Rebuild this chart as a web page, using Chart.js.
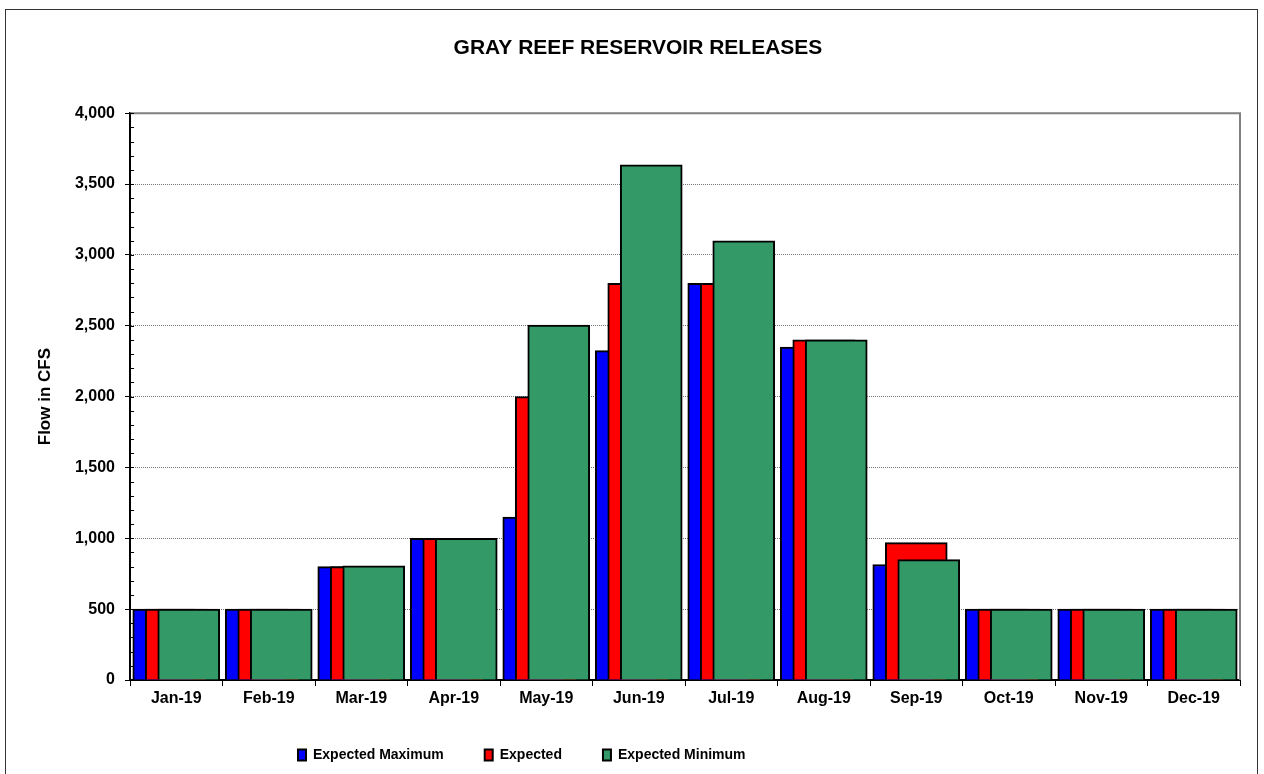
<!DOCTYPE html>
<html>
<head>
<meta charset="utf-8">
<script src="https://cdn.jsdelivr.net/npm/chart.js@4.4.1/dist/chart.umd.min.js"></script>
<style>
  html, body { margin: 0; padding: 0; background: #fff; overflow: hidden; }
  #frame { position: absolute; left: 5px; top: 9px; width: 1251px; height: 800px; border: 1px solid #333; }
  #chart { position: absolute; left: 0; top: 0; }
</style>
</head>
<body>
<div id="frame"></div>
<canvas id="chart" width="1264" height="774"></canvas>
<script>
const months = ['Jan-19', 'Feb-19', 'Mar-19', 'Apr-19', 'May-19', 'Jun-19', 'Jul-19', 'Aug-19', 'Sep-19', 'Oct-19', 'Nov-19', 'Dec-19']
const expectedMax = [500, 500, 800, 1000, 1150, 2325, 2800, 2350, 815, 500, 500, 500]
const expected = [500, 500, 800, 1000, 2000, 2800, 2800, 2400, 970, 500, 500, 500]
const expectedMin = [500, 500, 805, 1000, 2505, 3635, 3100, 2400, 850, 500, 500, 500]
const yTicks = [0, 500, 1000, 1500, 2000, 2500, 3000, 3500, 4000]

// Excel-style overlapping bars: each series nudged along the category axis
const SHIFT = 0.135
const FONT = "'Liberation Sans', Arial, sans-serif"

const toPoints = (values, shift) => values.map((v, i) => ({ x: i + shift, y: v }))

// plot frame (top/right), minor ticks on the value axis, legend/title placement
const framePlugin = {
  id: 'frame',
  afterInit(chart) {
    const legend = chart.legend
    const origFit = legend.fit
    legend.fit = function () {
      origFit.call(this)
      this.height = 67
    }
  },
  afterLayout(chart) {
    chart.legend.left = 257
    chart.titleBlock.left = 36
  },
  afterDraw(chart) {
    const { ctx, chartArea, scales } = chart
    ctx.save()
    ctx.strokeStyle = '#808080'
    ctx.lineWidth = 2
    ctx.beginPath()
    ctx.moveTo(chartArea.left, chartArea.top)
    ctx.lineTo(chartArea.right, chartArea.top)
    ctx.lineTo(chartArea.right, chartArea.bottom)
    ctx.stroke()

    ctx.strokeStyle = '#000'
    ctx.lineWidth = 1
    ctx.beginPath()
    for (let v = 0; v <= 4000; v += 100) {
      const y = Math.round(scales.y.getPixelForValue(v)) + 0.5
      ctx.moveTo(chartArea.left, y)
      ctx.lineTo(chartArea.left + 4, y)
    }
    ctx.stroke()
    ctx.restore()
  },
}

const ctx = document.getElementById('chart').getContext('2d')
new Chart(ctx, {
  type: 'bar',
  data: {
    datasets: [
      {
        label: 'Expected Maximum',
        data: toPoints(expectedMax, -SHIFT),
        backgroundColor: '#0000ff',
        borderColor: '#000',
        borderWidth: 2,
        order: 3,
      },
      {
        label: 'Expected',
        data: toPoints(expected, 0),
        backgroundColor: '#ff0000',
        borderColor: '#000',
        borderWidth: 2,
        order: 2,
      },
      {
        label: 'Expected Minimum',
        data: toPoints(expectedMin, SHIFT),
        backgroundColor: '#339966',
        borderColor: '#000',
        borderWidth: 2,
        order: 1,
      },
    ],
  },
  options: {
    responsive: false,
    animation: false,
    grouped: false,
    barThickness: 62,
    layout: { padding: { left: 0, right: 24, top: 0, bottom: 0 } },
    scales: {
      x: {
        type: 'linear',
        min: -0.5,
        max: 11.5,
        offset: false,
        afterBuildTicks: (scale) => {
          scale.ticks = months.map((_, i) => ({ value: i }))
        },
        afterFit: (scale) => { scale.height = 27 },
        ticks: {
          callback: (v) => months[v],
          autoSkip: false,
          maxRotation: 0,
          padding: 3,
          color: '#000',
          font: { family: FONT, size: 16, weight: 'bold' },
        },
        grid: {
          offset: true,
          drawOnChartArea: false,
          tickLength: 6,
          tickColor: '#000',
          tickWidth: 1,
        },
        border: { color: '#000', width: 2 },
      },
      y: {
        min: 0,
        max: 4000,
        afterBuildTicks: (scale) => {
          scale.ticks = yTicks.map(v => ({ value: v }))
        },
        afterFit: (scale) => { scale.width = 130 },
        ticks: {
          callback: (v) => v.toLocaleString('en-US'),
          padding: 10,
          color: '#000',
          font: { family: FONT, size: 16, weight: 'bold' },
        },
        grid: {
          color: (c) => (c.tick && (c.tick.value === 0 || c.tick.value === 4000)) ? 'rgba(0,0,0,0)' : '#777',
          lineWidth: 1,
          tickLength: 5,
          tickColor: '#000',
          tickBorderDash: [],
        },
        border: { color: '#000', width: 2, dash: [1, 1] },
        title: {
          display: true,
          text: 'Flow in CFS',
          color: '#000',
          padding: { top: 35, bottom: 0 },
          font: { family: FONT, size: 17, weight: 'bold' },
        },
      },
    },
    plugins: {
      tooltip: { enabled: false },
      title: {
        display: true,
        text: 'GRAY REEF RESERVOIR RELEASES',
        color: '#000',
        padding: { top: 36, bottom: 52 },
        font: { family: FONT, size: 21, weight: 'bold' },
      },
      legend: {
        position: 'bottom',
        align: 'start',
        labels: {
          sort: (a, b) => a.datasetIndex - b.datasetIndex,
          boxWidth: 8,
          boxHeight: 11,
          padding: 41,
          color: '#000',
          font: { family: FONT, size: 14, weight: 'bold' },
        },
      },
    },
  },
  plugins: [framePlugin],
})
</script>
</body>
</html>
